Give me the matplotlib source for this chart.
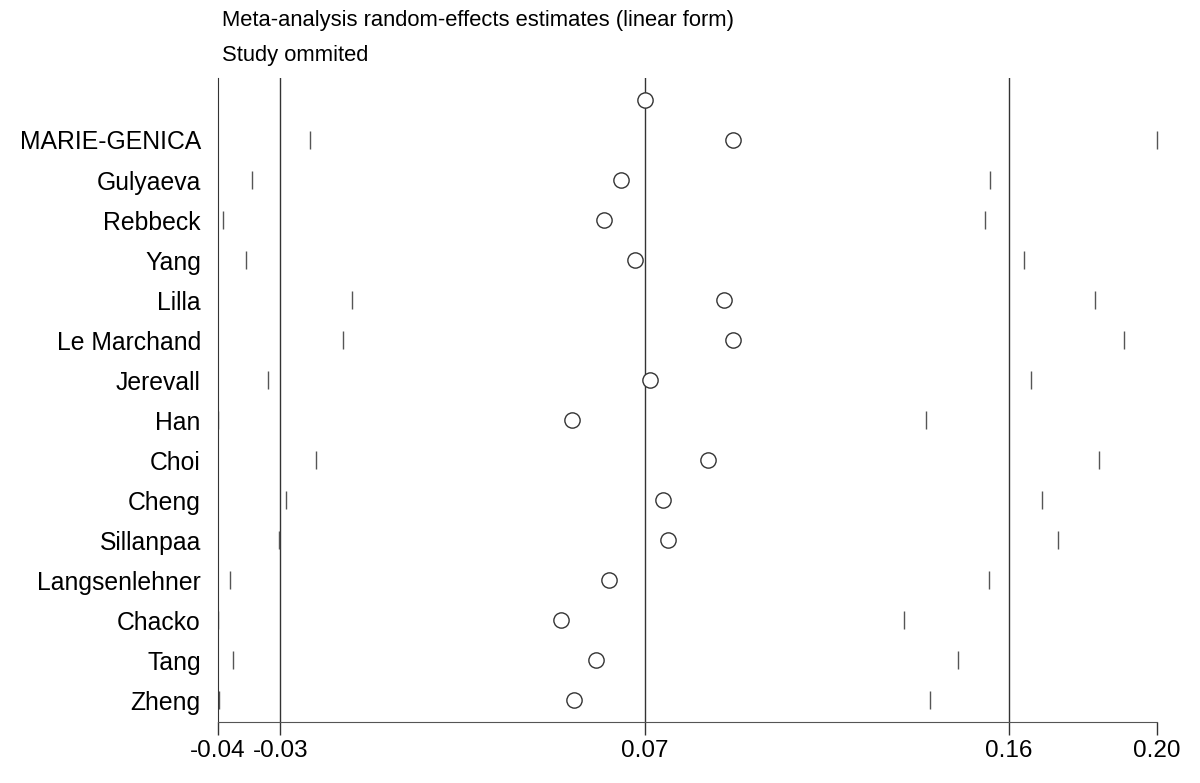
import numpy as np
import matplotlib.pyplot as plt

plt.rcParams['font.family'] = ['Liberation Sans', 'DejaVu Sans']
plt.rcParams['axes.unicode_minus'] = False

# Study omitted -> pooled estimate and 95% CI of the remaining studies
studies = ['MARIE-GENICA', 'Gulyaeva', 'Rebbeck', 'Yang', 'Lilla', 'Le Marchand',
           'Jerevall', 'Han', 'Choi', 'Cheng', 'Sillanpaa', 'Langsenlehner',
           'Chacko', 'Tang', 'Zheng']
estimate = [0.0900, 0.0609, 0.0564, 0.0645, 0.0875, 0.0900, 0.0683, 0.0482,
            0.0834, 0.0719, 0.0731, 0.0578, 0.0452, 0.0543, 0.0487]
lower = [-0.0200, -0.0349, -0.0426, -0.0366, -0.0089, -0.0113, -0.0307, -0.0437,
         -0.0183, -0.0261, -0.0280, -0.0407, -0.0439, -0.0398, -0.0436]
upper = [0.2000, 0.1567, 0.1554, 0.1656, 0.1839, 0.1915, 0.1674, 0.1401,
         0.1850, 0.1703, 0.1743, 0.1564, 0.1343, 0.1483, 0.1410]

# Combined estimate (all studies)
overall_est = 0.0670
overall_lower = -0.0276
overall_upper = 0.1616

fig = plt.figure(figsize=(12, 7.83), dpi=100)
ax = fig.add_axes([0.18125, 0.0783, 0.7827, 0.8221])

rows = np.arange(1, len(studies) + 1)

for v in (overall_lower, overall_est, overall_upper):
    ax.axvline(v, color='#333333', lw=1.0, zorder=1)

ax.plot([overall_est], [0], 'o', mfc='white', mec='#333333', ms=11, mew=1.0, zorder=3)
ax.plot(estimate, rows, 'o', mfc='white', mec='#333333', ms=11, mew=1.0, zorder=3)
ax.plot(lower, rows, '|', color='#555555', ms=13, mew=1.0, zorder=2)
ax.plot(upper, rows, '|', color='#555555', ms=13, mew=1.0, zorder=2, clip_on=False)

xmin = min(lower)
xmax = max(upper)
ax.set_xlim(xmin, xmax)
ax.set_ylim(len(studies) + 0.54, -0.55)

ticks = [xmin, overall_lower, overall_est, overall_upper, xmax]
ax.set_xticks(ticks)
ax.set_xticklabels(['%.2f' % t for t in ticks])
ax.set_yticks(rows)
ax.set_yticklabels(studies)

ax.tick_params(axis='y', length=0, pad=12, labelsize=17.8)
ax.tick_params(axis='x', length=9.5, width=1, direction='out', labelsize=17.5,
               pad=3.5, color='#333333')
ax.spines['top'].set_visible(False)
ax.spines['right'].set_visible(False)
ax.spines['left'].set_color('#333333')
ax.spines['bottom'].set_color('#555555')

fig.text(222 / 1200, 1 - 20.5 / 783, 'Meta-analysis random-effects estimates (linear form)',
         va='center', ha='left', fontsize=15.8)
fig.text(222 / 1200, 1 - 55 / 783, 'Study ommited', va='center', ha='left', fontsize=15.8)

fig.savefig('out.png', dpi=100)
